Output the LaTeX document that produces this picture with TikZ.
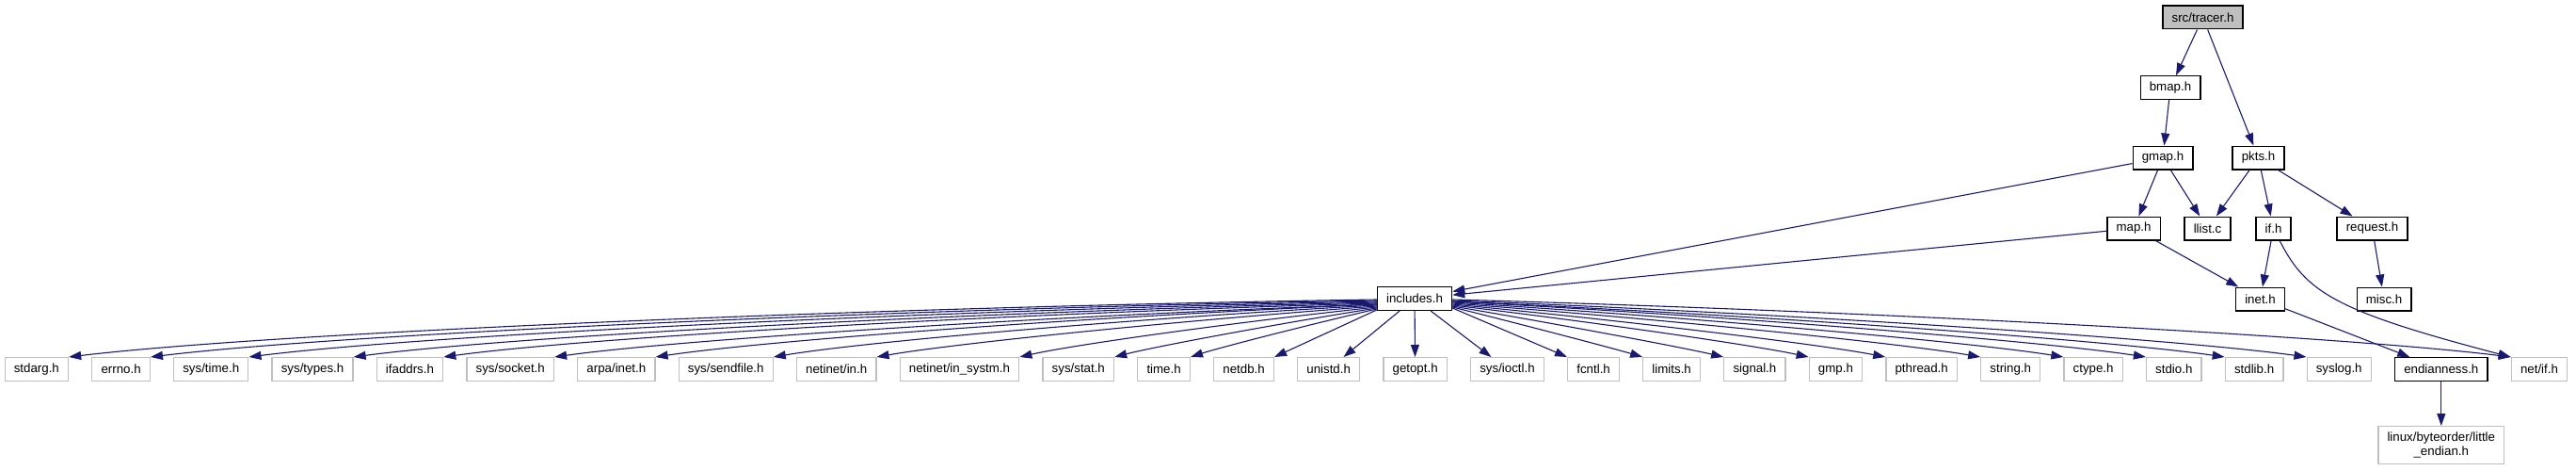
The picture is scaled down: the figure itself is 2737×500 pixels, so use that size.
\documentclass[tikz,border=0pt]{standalone}
\usepackage{fontspec}
\setmainfont{Liberation Sans}
\usepackage{tikz}
\usetikzlibrary{arrows.meta, positioning, calc}
\definecolor{dotedge}{HTML}{191970}
\definecolor{dotgrey}{HTML}{BFBFBF}

\begin{document}
\begin{tikzpicture}[
        x=1pt, y=-1pt,
        node distance=24pt,
        hdr/.style={rectangle, draw=black, fill=white, line width=1.3pt, font=\fontsize{13.3}{15.5}\selectfont, inner xsep=9.67pt, inner ysep=0pt, minimum height=24.7pt},
        ext/.style={hdr, draw=dotgrey},
        root/.style={hdr, fill=dotgrey},
        arrow/.style={-{Triangle[length=13pt,width=9pt]}, line width=1.1pt, dotedge}
    ]
    \useasboundingbox (0,0) rectangle (2737,500);

    \node[root] (tracer) at (2340.5,18.5) {src/tracer.h};
    \node[hdr] (bmap) at (2306,93) {bmap.h};
    \node[hdr] (gmap) at (2298,167.5) {gmap.h};
    \node[hdr] (pkts) at (2399.5,167.5) {pkts.h};
    \node[hdr] (map) at (2267,242.5) {map.h};
    \node[hdr] (llist) at (2345.5,242.5) {llist.c};
    \node[hdr] (ifh) at (2415.5,242.5) {if.h};
    \node[hdr] (request) at (2520.5,242.5) {request.h};
    \node[hdr] (includes) at (1503,317) {includes.h};
    \node[hdr] (inet) at (2401.5,317.5) {inet.h};
    \node[hdr] (misc) at (2533,317.5) {misc.h};

    \node[ext, anchor=west] (stdarg) at (4.5,392) {stdarg.h};
    \node[ext, right=of stdarg] (errno) {errno.h};
    \node[ext, right=of errno] (systime) {sys/time.h};
    \node[ext, right=of systime] (systypes) {sys/types.h};
    \node[ext, right=of systypes] (ifaddrs) {ifaddrs.h};
    \node[ext, right=of ifaddrs] (syssocket) {sys/socket.h};
    \node[ext, right=of syssocket] (arpainet) {arpa/inet.h};
    \node[ext, right=of arpainet] (syssendfile) {sys/sendfile.h};
    \node[ext, right=of syssendfile] (netinetin) {netinet/in.h};
    \node[ext, right=of netinetin] (netinetinsystm) {netinet/in\_systm.h};
    \node[ext, right=of netinetinsystm] (sysstat) {sys/stat.h};
    \node[ext, right=of sysstat] (timeh) {time.h};
    \node[ext, right=of timeh] (netdb) {netdb.h};
    \node[ext, right=of netdb] (unistd) {unistd.h};
    \node[ext, right=of unistd] (getopt) {getopt.h};
    \node[ext, right=of getopt] (sysioctl) {sys/ioctl.h};
    \node[ext, right=of sysioctl] (fcntl) {fcntl.h};
    \node[ext, right=of fcntl] (limits) {limits.h};
    \node[ext, right=of limits] (signal) {signal.h};
    \node[ext, right=of signal] (gmp) {gmp.h};
    \node[ext, right=of gmp] (pthread) {pthread.h};
    \node[ext, right=of pthread] (string) {string.h};
    \node[ext, right=of string] (ctype) {ctype.h};
    \node[ext, right=of ctype] (stdio) {stdio.h};
    \node[ext, right=of stdio] (stdlib) {stdlib.h};
    \node[ext, right=of stdlib] (syslog) {syslog.h};
    \node[hdr, right=of syslog] (endian) {endianness.h};
    \node[ext, right=of endian] (netif) {net/if.h};
    \node[ext, below=47pt of endian, align=center, minimum height=40pt] (little) {linux/byteorder/little\\\_endian.h};

    \draw[arrow] (tracer) -- (bmap);
    \draw[arrow] (tracer) -- (pkts);
    \draw[arrow] (bmap) -- (gmap);
    \draw[arrow] (gmap) -- (includes);
    \draw[arrow] (gmap) -- (map);
    \draw[arrow] (gmap) -- (llist);
    \draw[arrow] (pkts) -- (llist);
    \draw[arrow] (pkts) -- (ifh);
    \draw[arrow] (pkts) -- (request);
    \draw[arrow] (map) -- (includes);
    \draw[arrow] (map) -- (inet);
    \draw[arrow] (ifh) -- (inet);
    \draw[arrow] (ifh) .. controls (2450,310) and (2480,330) .. (netif.north west);
    \draw[arrow] (request) -- (misc);
    \draw[arrow] (inet) -- (endian);
    \draw[arrow] (endian) -- (little);

    \foreach \leaf/\sy/\h in {stdarg/1/16, errno/2/15, systime/3/14, systypes/4/13, ifaddrs/5/12, syssocket/6/10, arpainet/6/9, syssendfile/7/8, netinetin/8/6, netinetinsystm/9/5, sysstat/10/3, timeh/11/2, netdb/12/0}{
        \coordinate (s) at ($(includes.west)+(0,\sy)$);
        \draw[arrow] (s) .. controls ($(s)!0.4!(\leaf.north east)+(0,-\h)$) and ($(s)!0.85!(\leaf.north east)+(0,-\h)$) .. (\leaf.north east);
    }
    \foreach \leaf in {unistd, getopt, sysioctl}
        \draw[arrow] (includes) -- (\leaf);
    \foreach \leaf/\sy/\h in {fcntl/10/0, limits/9/1, signal/8/2, gmp/7/4, pthread/6/5, string/5/6, ctype/4/7, stdio/3/8, stdlib/3/9, syslog/2/10, netif/1/12}{
        \coordinate (s) at ($(includes.east)+(0,\sy)$);
        \draw[arrow] (s) .. controls ($(s)!0.4!(\leaf.north west)+(0,-\h)$) and ($(s)!0.85!(\leaf.north west)+(0,-\h)$) .. (\leaf.north west);
    }

\end{tikzpicture}
\end{document}
